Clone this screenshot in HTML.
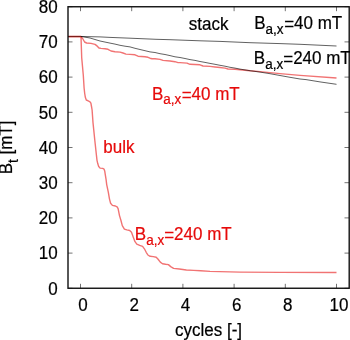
<!DOCTYPE html>
<html><head><meta charset="utf-8"><style>
html,body{margin:0;padding:0;background:#fff;overflow:hidden;}
svg{display:block;will-change:transform;}
text{font-family:"Liberation Sans",sans-serif;font-size:17px;}
</style></head><body>
<svg width="350" height="340" viewBox="0 0 350 340">
<rect width="350" height="340" fill="#fff"/>
<g stroke="#000" stroke-width="1" fill="none" opacity="0.55">
<line x1="80.50" y1="288.3" x2="80.50" y2="283.8"/><line x1="80.50" y1="6.7" x2="80.50" y2="11.2"/><line x1="131.70" y1="288.3" x2="131.70" y2="283.8"/><line x1="131.70" y1="6.7" x2="131.70" y2="11.2"/><line x1="182.90" y1="288.3" x2="182.90" y2="283.8"/><line x1="182.90" y1="6.7" x2="182.90" y2="11.2"/><line x1="234.10" y1="288.3" x2="234.10" y2="283.8"/><line x1="234.10" y1="6.7" x2="234.10" y2="11.2"/><line x1="285.30" y1="288.3" x2="285.30" y2="283.8"/><line x1="285.30" y1="6.7" x2="285.30" y2="11.2"/><line x1="336.50" y1="288.3" x2="336.50" y2="283.8"/><line x1="336.50" y1="6.7" x2="336.50" y2="11.2"/><line x1="68" y1="288.30" x2="72.5" y2="288.30"/><line x1="349" y1="288.30" x2="344.5" y2="288.30"/><line x1="68" y1="253.10" x2="72.5" y2="253.10"/><line x1="349" y1="253.10" x2="344.5" y2="253.10"/><line x1="68" y1="217.90" x2="72.5" y2="217.90"/><line x1="349" y1="217.90" x2="344.5" y2="217.90"/><line x1="68" y1="182.70" x2="72.5" y2="182.70"/><line x1="349" y1="182.70" x2="344.5" y2="182.70"/><line x1="68" y1="147.50" x2="72.5" y2="147.50"/><line x1="349" y1="147.50" x2="344.5" y2="147.50"/><line x1="68" y1="112.30" x2="72.5" y2="112.30"/><line x1="349" y1="112.30" x2="344.5" y2="112.30"/><line x1="68" y1="77.10" x2="72.5" y2="77.10"/><line x1="349" y1="77.10" x2="344.5" y2="77.10"/><line x1="68" y1="41.90" x2="72.5" y2="41.90"/><line x1="349" y1="41.90" x2="344.5" y2="41.90"/><line x1="68" y1="6.70" x2="72.5" y2="6.70"/><line x1="349" y1="6.70" x2="344.5" y2="6.70"/>
</g>
<g fill="none" stroke-width="1" stroke-linejoin="round">
<polyline points="68.0,36.5 81.0,36.5 82.6,38.5 84.6,42.0 86.6,43.0 91.0,43.4 95.0,44.4 97.0,45.9 99.0,48.0 101.0,48.4 105.0,48.7 108.0,49.3 111.0,51.0 115.0,51.7 120.0,52.1 123.0,53.0 126.0,54.1 130.0,54.4 135.0,54.8 138.0,56.2 145.0,56.8 148.0,57.3 150.0,58.2 152.0,58.7 155.0,58.8 160.0,59.4 163.0,60.4 170.0,61.0 175.0,61.7 178.0,62.6 180.0,62.6 187.0,63.1 190.0,64.3 200.0,64.8 203.0,66.0 210.0,66.4 215.0,67.0 220.0,67.5 225.0,68.1 228.0,69.0 235.0,69.3 240.0,69.7 250.0,70.8 260.0,71.6 270.0,72.6 280.0,73.6 300.0,75.4 336.5,78.0" stroke="#e60000" stroke-width="1.4" opacity="0.55"/>
<polyline points="68.0,36.6 81.0,36.6 81.7,57.6 83.3,75.3 84.1,88.0 84.7,93.5 85.4,97.6 86.3,100.0 88.2,100.9 90.0,101.8 90.9,103.2 91.5,106.5 92.1,110.0 93.0,122.6 94.8,140.3 96.4,155.0 97.0,160.3 97.8,163.8 98.7,166.5 100.1,168.1 102.7,168.4 104.0,169.1 104.7,170.9 105.4,175.3 106.1,179.7 106.7,184.6 108.3,192.1 109.5,199.1 110.6,203.2 112.4,205.4 115.4,206.0 117.1,206.9 118.1,208.6 119.5,215.6 120.9,220.3 122.3,225.6 124.4,229.1 126.8,229.9 129.7,230.5 131.5,232.3 133.2,237.0 135.0,241.7 136.8,244.1 139.7,245.4 142.6,246.4 144.4,248.8 146.2,252.3 147.9,255.0 150.1,256.3 153.2,256.6 156.2,257.3 157.9,259.0 160.3,262.1 162.5,263.7 165.6,264.3 168.4,264.6 170.7,266.6 173.6,268.4 179.3,269.0 186.4,270.0 193.6,270.4 200.7,270.7 210.0,271.4 240.0,272.1 280.0,272.4 336.5,272.5" stroke="#e60000" stroke-width="1.4" opacity="0.55"/>
<polyline points="68.0,36.5 81.4,36.5 100.0,36.9 110.0,37.4 130.0,38.2 156.0,39.3 170.0,39.7 200.0,40.8 220.0,41.4 250.0,42.7 280.0,43.6 300.0,44.3 336.5,46.0" stroke="#000" opacity="0.62"/>
<polyline points="68.0,36.5 81.4,36.5 90.0,38.0 100.0,41.0 110.0,43.1 115.0,44.1 120.0,45.3 125.0,46.2 130.0,46.9 135.0,48.3 140.0,49.5 145.0,50.7 150.0,51.9 155.0,52.5 160.0,53.7 165.0,54.5 170.0,55.6 175.0,56.8 180.0,57.5 185.0,58.5 190.0,59.6 195.0,60.4 200.0,61.5 205.0,62.4 210.0,63.4 215.0,64.3 220.0,65.3 225.0,66.2 230.0,67.3 235.0,68.1 240.0,69.1 250.0,70.7 260.0,72.1 270.0,73.7 280.0,75.5 290.0,77.3 300.0,79.0 306.0,79.6 320.0,81.9 336.5,84.3" stroke="#000" opacity="0.62"/>
<line x1="68.5" y1="36.5" x2="81.0" y2="36.5" stroke="rgb(125,30,25)" stroke-width="1.15"/>
</g>
<rect x="68" y="6.75" width="281.2" height="281.5" fill="none" stroke="#111" stroke-width="1.4"/>
<g fill="#000" stroke="#000" stroke-width="0.2">
<text transform="translate(83.00,310.80) scale(1,1.04)" text-anchor="middle">0</text><text transform="translate(134.20,310.80) scale(1,1.04)" text-anchor="middle">2</text><text transform="translate(185.40,310.80) scale(1,1.04)" text-anchor="middle">4</text><text transform="translate(236.60,310.80) scale(1,1.04)" text-anchor="middle">6</text><text transform="translate(287.80,310.80) scale(1,1.04)" text-anchor="middle">8</text><text transform="translate(339.00,310.80) scale(1,1.04)" text-anchor="middle">10</text>
<text transform="translate(57.60,294.50) scale(1,1.04)" text-anchor="end">0</text><text transform="translate(57.60,259.30) scale(1,1.04)" text-anchor="end">10</text><text transform="translate(57.60,224.10) scale(1,1.04)" text-anchor="end">20</text><text transform="translate(57.60,188.90) scale(1,1.04)" text-anchor="end">30</text><text transform="translate(57.60,153.70) scale(1,1.04)" text-anchor="end">40</text><text transform="translate(57.60,118.50) scale(1,1.04)" text-anchor="end">50</text><text transform="translate(57.60,83.30) scale(1,1.04)" text-anchor="end">60</text><text transform="translate(57.60,48.10) scale(1,1.04)" text-anchor="end">70</text><text transform="translate(57.60,12.90) scale(1,1.04)" text-anchor="end">80</text>
<text transform="translate(188.80,29.80) scale(1,1.04)" >stack</text>
<text transform="translate(254.20,29.10) scale(1,1.04)" >B<tspan font-size="13.5" dy="4.7">a,x</tspan><tspan dx="0.6" dy="-3.5">=</tspan><tspan dy="-1.2">40 mT</tspan></text>
<text transform="translate(253.80,63.60) scale(1,1.04)" >B<tspan font-size="13.5" dy="5.0">a,x</tspan><tspan dx="0.1" dy="-3.4">=</tspan><tspan dy="-1.6">240 mT</tspan></text>
<text transform="translate(175.00,336.40) scale(1,1.04)" >cycles [-]</text>
<text transform="translate(12.4,174.3) rotate(-90) scale(1,1.04)">B<tspan font-size="13.5" dy="5.6">t</tspan><tspan dy="-5.6"> [mT]</tspan></text>
</g>
<g fill="rgb(230,10,10)" stroke="rgb(230,10,10)" stroke-width="0.2">
<text transform="translate(151.90,99.50) scale(1,1.04)" >B<tspan font-size="13.5" dy="4.4">a,x</tspan><tspan dx="0.4" dy="-2.9000000000000004">=</tspan><tspan dy="-1.5">40 mT</tspan></text>
<text transform="translate(134.80,239.50) scale(1,1.04)" >B<tspan font-size="13.5" dy="5.3">a,x</tspan><tspan dx="0" dy="-3.8">=</tspan><tspan dy="-1.5">240 mT</tspan></text>
<text transform="translate(103.30,153.40) scale(1,1.04)" >bulk</text>
</g>
</svg>
</body></html>
